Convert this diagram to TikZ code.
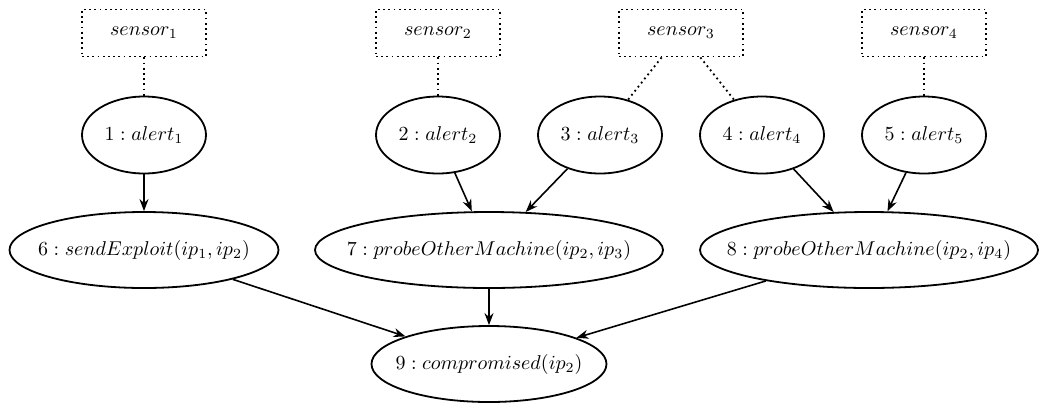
\documentclass[tikz,border=0pt]{standalone}
\usetikzlibrary{shapes.geometric,arrows.meta}
\begin{document}
\begin{tikzpicture}[x=0.5pt,y=-0.5pt,
  sensorbox/.style={draw,dash pattern=on 0.9pt off 1.7pt,line width=0.9pt,minimum width=62pt,minimum height=23.5pt,inner sep=0pt},
  alertnode/.style={draw,ellipse,line width=0.9pt,minimum width=62pt,minimum height=38.5pt,inner sep=0pt},
  factnode/.style={draw,ellipse,line width=0.9pt,minimum height=38pt,inner sep=0pt},
  link/.style={dash pattern=on 0.9pt off 1.7pt,line width=0.9pt},
  arr/.style={-{Stealth[length=6pt,width=4.5pt]},line width=0.8pt}]
\useasboundingbox (0,0) rectangle (1039,403);
\node[sensorbox] (s1) at (144,33) {$sensor_1$};
\node[sensorbox] (s2) at (438,33) {$sensor_2$};
\node[sensorbox] (s3) at (681,33) {$sensor_3$};
\node[sensorbox] (s4) at (924,33) {$sensor_4$};
\node[alertnode] (a1) at (144,135) {$1: alert_1$};
\node[alertnode] (a2) at (438,135) {$2: alert_2$};
\node[alertnode] (a3) at (600,135) {$3: alert_3$};
\node[alertnode] (a4) at (762,135) {$4: alert_4$};
\node[alertnode] (a5) at (924,135) {$5: alert_5$};
\node[factnode,minimum width=134.5pt] (n6) at (144,250) {\makebox[0pt]{$6: sendExploit(ip_1, ip_2)$}};
\node[factnode,minimum width=174pt] (n7) at (489,250) {\makebox[0pt]{$7: probeOtherMachine(ip_2, ip_3)$}};
\node[factnode,minimum width=169pt] (n8) at (869,250) {\makebox[0pt]{$8: probeOtherMachine(ip_2, ip_4)$}};
\node[factnode,minimum width=117.5pt] (n9) at (489,364) {\makebox[0pt]{$9: compromised(ip_2)$}};
\draw[link] (s1) -- (a1);
\draw[link] (s2) -- (a2);
\draw[link] (s3) -- (a3);
\draw[link] (s3) -- (a4);
\draw[link] (s4) -- (a5);
\draw[arr] (a1) -- (n6);
\draw[arr] (a2) -- (n7);
\draw[arr] (a3) -- (n7);
\draw[arr] (a4) -- (n8);
\draw[arr] (a5) -- (n8);
\draw[arr] (n6) -- (n9);
\draw[arr] (n7) -- (n9);
\draw[arr] (n8) -- (n9);
\end{tikzpicture}
\end{document}
